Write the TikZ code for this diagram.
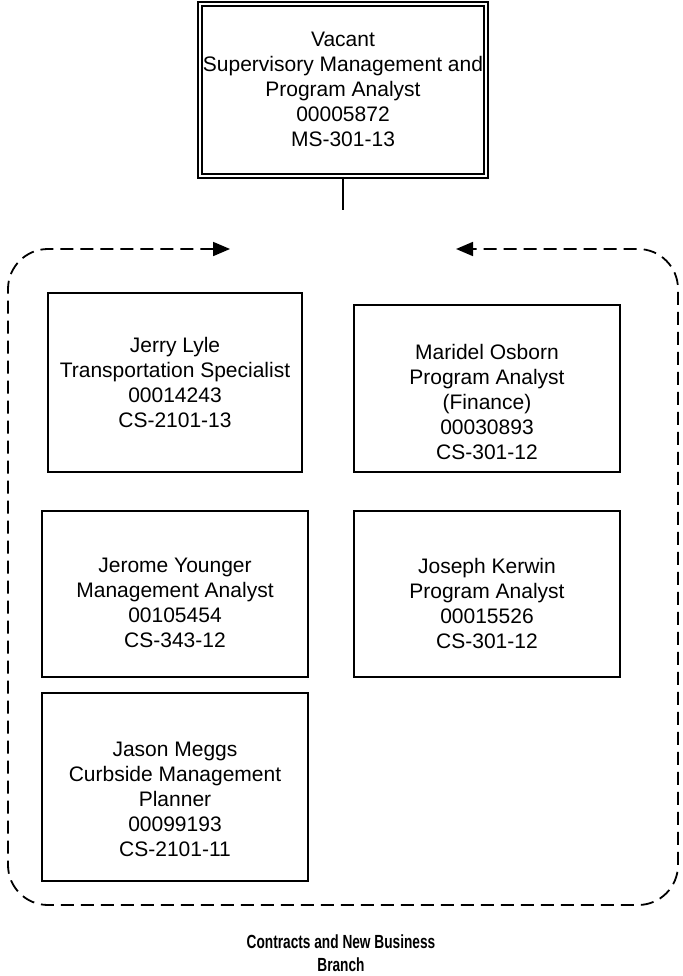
\documentclass[tikz,border=0pt]{standalone}
\usepackage{fontspec}
\setmainfont{Liberation Sans}
\usetikzlibrary{arrows.meta}
\tikzset{
  posbox/.style={draw, line width=1.8pt, rectangle, inner sep=0pt},
  postext/.style={align=center, inner sep=0pt, font=\fontsize{21}{25}\selectfont},
  topbox/.style={posbox, double, double distance=2pt, line width=2pt},
  branch/.style={dashed, dash pattern=on 13pt off 7pt, line width=1.8pt, rounded corners=40pt},
}
\begin{document}
\begin{tikzpicture}[x=1pt,y=-1pt]
\useasboundingbox (0,0) rectangle (682,976);
\node[topbox, minimum width=286pt, minimum height=172pt] (top) at (343,90) {};
\node[postext] (topt) at (343,89)
  {Vacant\\Supervisory Management and\\Program Analyst\\00005872\\MS-301-13};
\coordinate (drop) at (343,210);
\draw[line width=1.8pt] (top.south) -- (drop);

\node[posbox, minimum width=254pt, minimum height=179pt] (jerry) at (175,382.5) {};
\node[postext] (jerryt) at (175,382)
  {Jerry Lyle\\Transportation Specialist\\00014243\\CS-2101-13};
\node[posbox, minimum width=266pt, minimum height=167pt] (maridel) at (487,388.5) {};
\node[postext] (maridelt) at (487,402)
  {Maridel Osborn\\Program Analyst\\(Finance)\\00030893\\CS-301-12};
\node[posbox, minimum width=266pt, minimum height=166pt] (jerome) at (175,594) {};
\node[postext] (jeromet) at (175,603)
  {Jerome Younger\\Management Analyst\\00105454\\CS-343-12};
\node[posbox, minimum width=266pt, minimum height=166pt] (joseph) at (487,594) {};
\node[postext] (josepht) at (487,603)
  {Joseph Kerwin\\Program Analyst\\00015526\\CS-301-12};
\node[posbox, minimum width=266pt, minimum height=188pt] (jason) at (175,787) {};
\node[postext] (jasont) at (175,799)
  {Jason Meggs\\Curbside Management\\Planner\\00099193\\CS-2101-11};

\coordinate (ltip) at (230,249);
\coordinate (rtip) at (456,249);
\draw[branch, {Triangle[length=17pt,width=14pt]}-{Triangle[length=17pt,width=14pt]}]
  (ltip) -- (8,249) -- (8,905) -- (678,905) -- (678,249) -- (rtip);

\node[align=center, font=\bfseries\fontsize{19}{23}\selectfont, xscale=0.72] (label) at (341,953)
  {Contracts and New Business\\Branch};
\end{tikzpicture}
\end{document}
